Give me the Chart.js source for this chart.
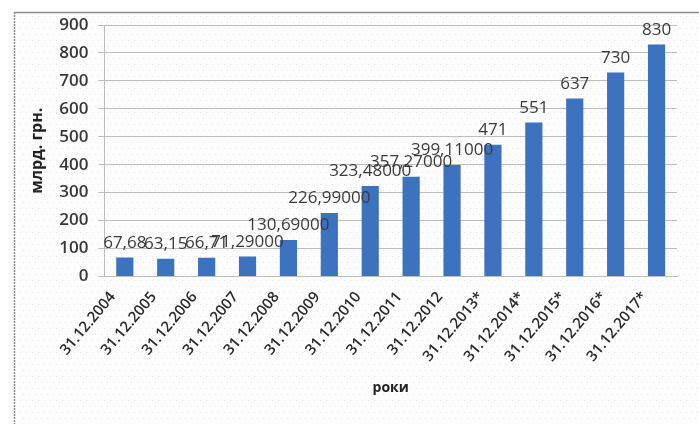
<!DOCTYPE html>
<html><head><meta charset="utf-8">
<script src="https://cdn.jsdelivr.net/npm/chart.js@4.4.1/dist/chart.umd.min.js"></script>
<style>
html,body{margin:0;padding:0;background:#fff;}
#wrap{position:absolute;left:0;top:0;width:699px;height:424px;}
</style></head>
<body>
<div id="wrap"><canvas id="c" width="699" height="424"></canvas></div>
<script>
const categories = ["31.12.2004","31.12.2005","31.12.2006","31.12.2007","31.12.2008","31.12.2009","31.12.2010","31.12.2011","31.12.2012","31.12.2013*","31.12.2014*","31.12.2015*","31.12.2016*","31.12.2017*"];
const values = [67.68,63.15,66.71,71.29,130.69,226.99,323.48,357.27,399.11,471,551,637,730,830];
const valueLabels = ["67,68","63,15","66,71","71,29000","130,69000","226,99000","323,48000","357,27000","399,11000","471","551","637","730","830"];
const yTicks = [0,100,200,300,400,500,600,700,800,900];
const yTitle = "млрд. грн.";
const xTitle = "роки";

const frame = {
  id:'frame',
  beforeDraw(chart){
    const ctx = chart.ctx;
    ctx.save();
    ctx.fillStyle = '#fdfdfd';
    ctx.fillRect(14,12,699-14,424-12);
    ctx.fillStyle = '#e6e6e6';
    for(let y=16;y<424;y+=6){
      for(let x=18+((y/6)%2)*3;x<699;x+=6){ ctx.fillRect(x,y,1,1); }
    }
    ctx.strokeStyle = '#8c8c8c';
    ctx.lineWidth = 1.5;
    ctx.beginPath(); ctx.moveTo(14,12.5); ctx.lineTo(699,12.5); ctx.stroke();
    ctx.setLineDash([2,1]);
    ctx.beginPath(); ctx.moveTo(14.5,12); ctx.lineTo(14.5,424); ctx.stroke();
    ctx.restore();
  }
};
const labelsPlugin = {
  id:'vlabels',
  afterDatasetsDraw(chart){
    const ctx = chart.ctx;
    const meta = chart.getDatasetMeta(0);
    ctx.save();
    ctx.font = '17px "Open Sans", sans-serif';
    ctx.fillStyle = '#3a3a3a';
    ctx.textAlign = 'center';
    ctx.textBaseline = 'bottom';
    meta.data.forEach((bar,i)=>{
      ctx.fillText(valueLabels[i], bar.x, bar.y - 6);
    });
    ctx.restore();
  }
};

new Chart(document.getElementById('c'), {
  type:'bar',
  data:{ labels: categories, datasets:[{ data: values, backgroundColor:'#3d72bf', barPercentage:0.42, categoryPercentage:1 }]},
  options:{
    responsive:false, animation:false, devicePixelRatio:1,
    layout:{ padding:{ left:28, right:22, top:25, bottom:24 } },
    plugins:{ legend:{display:false}, tooltip:{enabled:false} },
    scales:{
      y:{ min:0, max:900, afterBuildTicks(ax){ ax.ticks = yTicks.map(v=>({value:v})); },
        grid:{ color:'#bdbdbd', tickLength:6, drawTicks:true },
        border:{ color:'#bdbdbd' },
        ticks:{ color:'#383838', padding:10, font:{ size:17, family:'"Open Sans", sans-serif', weight:'600' } },
        title:{ display:true, text:yTitle, color:'#222', font:{ size:16, family:'"Open Sans", sans-serif', weight:'bold' }, padding:{top:0,bottom:2} }
      },
      x:{ grid:{ display:false, drawTicks:true, tickLength:5 },
        border:{ color:'#bdbdbd' },
        ticks:{ color:'#2a2a2a', minRotation:50, maxRotation:50, padding:7, labelOffset:-12, font:{ size:15, family:'"Open Sans", sans-serif', weight:'600' } },
        title:{ display:true, text:xTitle, color:'#222', font:{ size:14, family:'"Open Sans", sans-serif', weight:'bold' }, padding:{top:7} }
      }
    }
  },
  plugins:[frame, labelsPlugin]
});
</script>
</body></html>
